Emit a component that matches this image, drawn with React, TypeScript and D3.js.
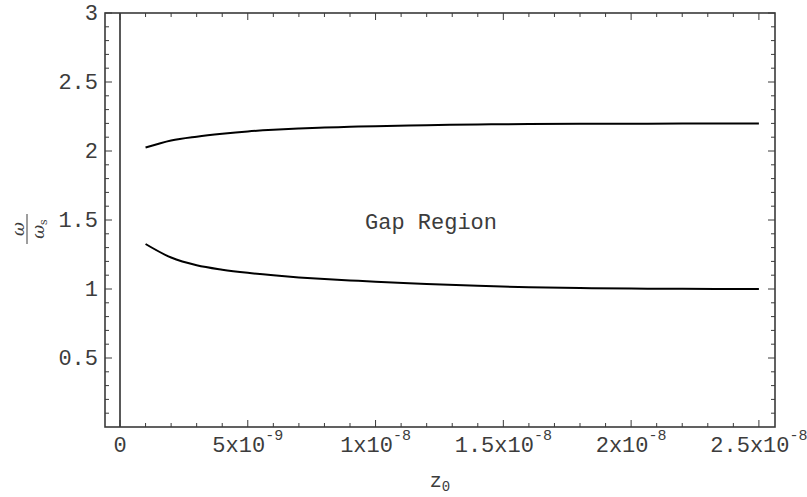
import React from "react";
import * as d3 from "d3";

const zValues = [1e-9, 2e-9, 3e-9, 4e-9, 5e-9, 6e-9, 7e-9, 8e-9, 9e-9, 10e-9, 12e-9, 14e-9, 16e-9, 18e-9, 20e-9, 22e-9, 25e-9];
const upperBranch = [2.025, 2.076, 2.104, 2.125, 2.142, 2.154, 2.163, 2.17, 2.175, 2.18, 2.187, 2.192, 2.195, 2.197, 2.198, 2.199, 2.2];
const lowerBranch = [1.326, 1.228, 1.172, 1.14, 1.117, 1.099, 1.084, 1.072, 1.062, 1.053, 1.036, 1.023, 1.013, 1.007, 1.003, 1.001, 1.0];

const xMajorTicks = [0, 5e-9, 1e-8, 1.5e-8, 2e-8, 2.5e-8];
const xTickMain = ["0", "5x10", "1x10", "1.5x10", "2x10", "2.5x10"];
const xTickSup = ["", "-9", "-8", "-8", "-8", "-8"];
const yMajorTicks = [0.5, 1, 1.5, 2, 2.5, 3];
const yTickLabels = ["0.5", "1", "1.5", "2", "2.5", "3"];

const W = 807, H = 497;
const L = 105, R = 775, T = 13, B = 427;
const mono = "'Liberation Mono', 'DejaVu Sans Mono', monospace";
const textColor = "#3c3c3c";

export default function App() {
  const x = d3.scaleLinear().domain([-0.587e-9, 25.63e-9]).range([L, R]);
  const y = d3.scaleLinear().domain([0, 3]).range([B, T]);

  const xMinor = d3.range(0, 26).map((i) => i * 1e-9).filter((v) => !xMajorTicks.some((m) => Math.abs(m - v) < 1e-12));
  const yMinor = d3.range(1, 30).map((i) => i / 10).filter((v) => !yMajorTicks.some((m) => Math.abs(m - v) < 1e-9));

  const line = d3
    .line<number>()
    .x((_, i) => x(zValues[i]))
    .y((d) => y(d))
    .curve(d3.curveCatmullRom.alpha(0.5));

  const frameColor = "#3a3a3a";
  const majorLen = 7;
  const minorLen = 4;

  return (
    <svg width={W} height={H} style={{ position: "absolute", left: 0, top: 0, background: "#fff" }}>
      <rect x={0} y={0} width={W} height={H} fill="#fff" />
      <line x1={x(0)} x2={x(0)} y1={T} y2={B} stroke="#000" strokeWidth={1.3} />
      <path d={line(upperBranch) || ""} fill="none" stroke="#000" strokeWidth={2} />
      <path d={line(lowerBranch) || ""} fill="none" stroke="#000" strokeWidth={2} />
      {xMajorTicks.map((v, i) => (
        <g key={"xm" + i}>
          <line x1={x(v)} x2={x(v)} y1={B} y2={B - majorLen} stroke={frameColor} strokeWidth={1} />
          <line x1={x(v)} x2={x(v)} y1={T} y2={T + majorLen} stroke={frameColor} strokeWidth={1} />
        </g>
      ))}
      {xMinor.map((v, i) => (
        <g key={"xn" + i}>
          <line x1={x(v)} x2={x(v)} y1={B} y2={B - minorLen} stroke={frameColor} strokeWidth={1} />
          <line x1={x(v)} x2={x(v)} y1={T} y2={T + minorLen} stroke={frameColor} strokeWidth={1} />
        </g>
      ))}
      {yMajorTicks.map((v, i) => (
        <g key={"ym" + i}>
          <line x1={L} x2={L + majorLen} y1={y(v)} y2={y(v)} stroke={frameColor} strokeWidth={1} />
          <line x1={R} x2={R - majorLen} y1={y(v)} y2={y(v)} stroke={frameColor} strokeWidth={1} />
        </g>
      ))}
      {yMinor.map((v, i) => (
        <g key={"yn" + i}>
          <line x1={L} x2={L + minorLen} y1={y(v)} y2={y(v)} stroke={frameColor} strokeWidth={1} />
          <line x1={R} x2={R - minorLen} y1={y(v)} y2={y(v)} stroke={frameColor} strokeWidth={1} />
        </g>
      ))}
      <rect x={L} y={T} width={R - L} height={B - T} fill="none" stroke={frameColor} strokeWidth={1.6} />
      {yMajorTicks.map((v, i) => (
        <text key={"yl" + i} x={98} y={y(v) + 7} textAnchor="end" fontFamily={mono} fontSize={22} fill={textColor}>
          {yTickLabels[i]}
        </text>
      ))}
      {xMajorTicks.map((v, i) => (
        <text key={"xl" + i} x={x(v)} y={452} textAnchor="middle" fontFamily={mono} fontSize={22} fill={textColor}>
          {xTickMain[i]}
          {xTickSup[i] && (
            <tspan dy={-12} fontSize={15}>
              {xTickSup[i]}
            </tspan>
          )}
        </text>
      ))}
      <text x={440} y={487} textAnchor="middle" fontFamily={mono} fontSize={20} fill={textColor}>
        z
        <tspan dy={4} fontSize={14}>0</tspan>
      </text>
      <g transform="translate(27,229) rotate(-90)">
        <text x={0} y={-3} textAnchor="middle" fontFamily="'DejaVu Serif', serif" fontStyle="italic" fontSize={17} fill={textColor}>
          ω
        </text>
        <line x1={-15} x2={15} y1={0} y2={0} stroke={textColor} strokeWidth={1} />
        <text x={0} y={17} textAnchor="middle" fontFamily="'DejaVu Serif', serif" fontStyle="italic" fontSize={17} fill={textColor}>
          ω
          <tspan dy={3} fontSize={11} fontStyle="normal">s</tspan>
        </text>
      </g>
      <text x={431} y={229} textAnchor="middle" fontFamily={mono} fontSize={22} fill={textColor}>
        Gap Region
      </text>
    </svg>
  );
}
